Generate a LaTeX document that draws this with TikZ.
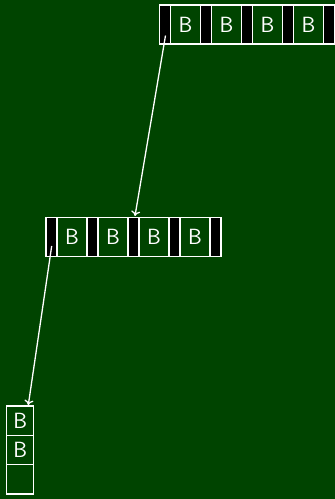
\documentclass[tikz,border=0pt]{standalone}
\usetikzlibrary{arrows.meta,positioning,calc}
\definecolor{BufGreen}{RGB}{0,68,0}
\tikzset{
  buf/cell/.style={
    draw=white,
    line width=1.2pt,
    fill=BufGreen,
    text=white,
    inner sep=0pt,
    outer sep=0pt,
    minimum width=30pt,
    minimum height=39pt,
    font=\sffamily\fontsize{22}{24}\selectfont
  },
  buf/ptr/.style={buf/cell, fill=black, minimum width=11pt},
  buf/slot/.style={buf/cell, minimum width=27pt, minimum height=29.3pt},
  buf/link/.style={-{To[length=5pt,width=9pt]}, line width=1.3pt, draw=white}
}

\begin{document}
\begin{tikzpicture}[x=1pt,y=-1pt]
  \fill[BufGreen] (0,0) rectangle (335,499);
  \useasboundingbox (0,0) rectangle (335,499);

  % top row
  \node[buf/ptr] (t-p1) at (165,24.5) {};
  \foreach \i in {1,...,4} {
    \pgfmathtruncatemacro\n{\i+1}
    \node[buf/cell, right=0pt of t-p\i] (t-b\i) {B};
    \node[buf/ptr, right=0pt of t-b\i] (t-p\n) {};
  }

  % middle row
  \node[buf/ptr] (m-p1) at (51.5,237) {};
  \foreach \i in {1,...,4} {
    \pgfmathtruncatemacro\n{\i+1}
    \node[buf/cell, right=0pt of m-p\i] (m-b\i) {B};
    \node[buf/ptr, right=0pt of m-b\i] (m-p\n) {};
  }

  % bottom column
  \node[buf/slot] (s1) at (20.3,420.7) {B};
  \node[buf/slot, below=0pt of s1] (s2) {B};
  \node[buf/slot, below=0pt of s2] (s3) {};

  \draw[buf/link] ($(t-p1.center)+(0.5,11)$) -- ($(m-p3.north)+(1.5,-1.5)$);
  \draw[buf/link] ($(m-p1.center)+(0.2,9)$) -- ($(s1.north)+(8,-1)$);
\end{tikzpicture}
\end{document}
